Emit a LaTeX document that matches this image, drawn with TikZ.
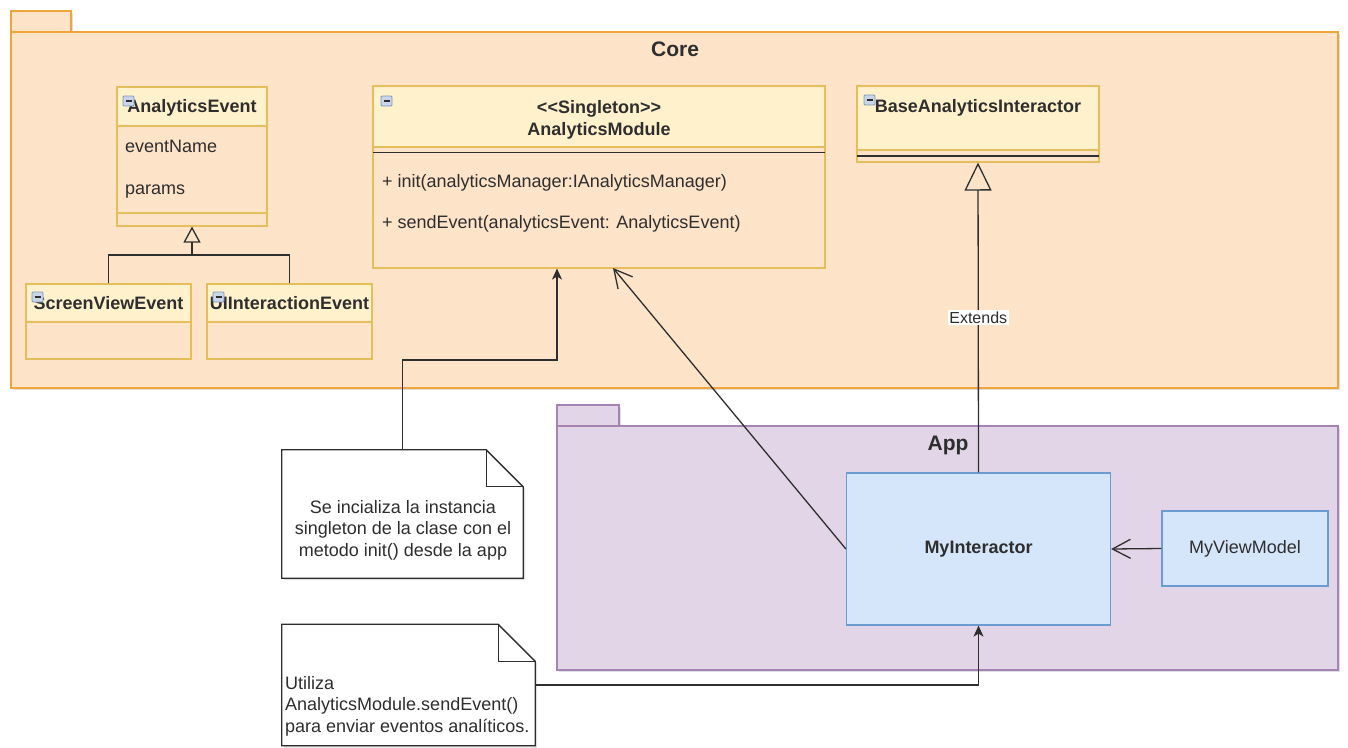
\documentclass[tikz,border=0pt]{standalone}
\usepackage{fontspec}
\setmainfont{Liberation Sans}
\usetikzlibrary{arrows.meta,shadows,calc}
\definecolor{coreFill}{HTML}{FDE3C8}
\definecolor{coreLine}{HTML}{EFA53A}
\definecolor{clsFill}{HTML}{FFF1CB}
\definecolor{clsLine}{HTML}{E3BE5A}
\definecolor{appFill}{HTML}{E1D5E7}
\definecolor{appLine}{HTML}{A583B5}
\definecolor{blueFill}{HTML}{D5E6FB}
\definecolor{blueLine}{HTML}{6C9BCF}
\definecolor{ink}{HTML}{2E2E2E}
\definecolor{icoFill}{HTML}{C9D6EA}
\definecolor{icoLine}{HTML}{7F95B5}
\tikzset{
  shad/.style={drop shadow={opacity=0.25,shadow xshift=2pt,shadow yshift=-2pt}},
  pkgC/.style={draw=coreLine,fill=coreFill,line width=1.4pt},
  pkgA/.style={draw=appLine,fill=appFill,line width=1.4pt},
  clsbox/.style={draw=clsLine,line width=1.1pt,inner sep=0pt,rectangle},
  clshead/.style={draw=clsLine,fill=clsFill,line width=1.1pt},
  sepline/.style={draw=clsLine,line width=1.1pt},
  darkline/.style={draw=ink,line width=1.4pt},
  txt/.style={font=\fontsize{18}{21.6}\selectfont,inner sep=0pt,text height=12.9pt,text depth=0pt,text=ink},
  txtb/.style={txt,font=\fontsize{18}{21.6}\selectfont\bfseries},
  ttl/.style={font=\fontsize{21}{25}\selectfont\bfseries,inner sep=0pt,text height=15pt,text depth=0pt,text=ink},
  lbl/.style={font=\fontsize{16}{19}\selectfont,fill=white,inner sep=1.5pt,text=ink},
  bluebox/.style={draw=blueLine,fill=blueFill,line width=1.2pt,inner sep=0pt,rectangle},
  edge/.style={draw=ink,line width=1.3pt},
  openarrow/.style={-{Straight Barb[length=18pt,width=19pt,line width=1.3pt]}},
  notebox/.style={inner sep=0pt,rectangle},
  noteline/.style={draw=ink,line width=1.3pt,fill=white},
  icobox/.style={draw=icoLine,fill=icoFill,line width=0.8pt,rounded corners=1pt},
  notetext/.style={font=\fontsize{18}{21.6}\selectfont,inner sep=0pt,text=ink},
}
\newcommand{\icon}[2]{%
  \draw[icobox] (#1,#2) rectangle ++(11,10);
  \draw[ink,line width=1.2pt] ($(#1,#2)+(2.5,5)$) -- ++(6,0);
}
\begin{document}
\begin{tikzpicture}[x=1pt,y=-1pt]
\useasboundingbox (0,0) rectangle (1348,747);

% ---------- Core package ----------
\draw[pkgC,shad] (11,11) rectangle (71,32);
\draw[pkgC,shad] (11,32) rectangle (1338,388);
\node[ttl] (coreT) at (675,49) {Core};

% ---------- App package ----------
\draw[pkgA,shad] (557,405) rectangle (619,426);
\draw[pkgA,shad] (557,426) rectangle (1338,670);
\node[ttl] (appT) at (948,443) {App};

% ---------- AnalyticsEvent ----------
\draw[clshead] (117,87) rectangle (267,126);
\node[clsbox,minimum width=150pt,minimum height=139pt] (ae) at (192,156.5) {};
\draw[sepline] (117,213) -- (267,213);
\node[txtb] (aeN) at (192,106) {AnalyticsEvent};
\node[txt,anchor=west] (aeA1) at (125,146) {eventName};
\node[txt,anchor=west] (aeA2) at (125,188) {params};
\icon{123}{96}

% ---------- ScreenViewEvent ----------
\draw[clshead] (26,284) rectangle (191,322);
\node[clsbox,minimum width=165pt,minimum height=75pt] (sve) at (108.5,321.5) {};
\node[txtb] (sveN) at (108.5,303) {ScreenViewEvent};
\icon{32}{292}

% ---------- UIInteractionEvent ----------
\draw[clshead] (207,284) rectangle (372,322);
\node[clsbox,minimum width=165pt,minimum height=75pt] (uie) at (289.5,321.5) {};
\node[txtb] (uieN) at (289.5,303) {UIInteractionEvent};
\icon{213}{292}

% ---------- AnalyticsModule ----------
\draw[clshead] (373,86) rectangle (825,147);
\node[clsbox,minimum width=452pt,minimum height=182pt] (am) at (599,177) {};
\draw[darkline] (373,152.5) -- (825,152.5);
\node[txtb] (amS) at (599,107) {<\kern0pt<Singleton>\kern0pt>};
\node[txtb] (amN) at (599,129) {AnalyticsModule};
\node[txt,anchor=west] (amM1) at (382,181) {+ init(analyticsManager:IAnalyticsManager)};
\node[txt,anchor=west] (amM2) at (382,222) {+ sendEvent(analyticsEvent: AnalyticsEvent)};
\icon{381}{96}

% ---------- BaseAnalyticsInteractor ----------
\draw[clshead] (857,86) rectangle (1099,150);
\node[clsbox,minimum width=242pt,minimum height=76pt] (bai) at (978,124) {};
\draw[darkline] (857,156) -- (1099,156);
\node[txtb] (baiN) at (978,106) {BaseAnalyticsInteractor};
\icon{864}{95}

% ---------- App classes ----------
\node[bluebox,minimum width=264pt,minimum height=152pt,font=\fontsize{18}{21.6}\selectfont\bfseries,text=ink] (mi) at (978.5,549) {MyInteractor};
\node[bluebox,minimum width=166pt,minimum height=75pt,font=\fontsize{18}{21.6}\selectfont,text=ink] (mvm) at (1245,548.5) {MyViewModel};

% ---------- Notes ----------
\node[notebox,minimum width=241pt,minimum height=128pt] (n1) at (402.5,514) {};
\draw[noteline,shad] (n1.north west) -- ($(n1.north east)+(-37,0)$) -- ($(n1.north east)+(0,37)$) -- (n1.south east) -- (n1.south west) -- cycle;
\draw[edge] ($(n1.north east)+(-37,0)$) -- ++(0,37) -- ++(37,0);
\node[notetext,align=center] (n1t) at (403,530) {Se incializa la instancia\\singleton de la clase con el\\metodo init() desde la app};

\node[notebox,minimum width=253pt,minimum height=121pt] (n2) at (408.5,685) {};
\draw[noteline,shad] (n2.north west) -- ($(n2.north east)+(-37,0)$) -- ($(n2.north east)+(0,37)$) -- (n2.south east) -- (n2.south west) -- cycle;
\draw[edge] ($(n2.north east)+(-37,0)$) -- ++(0,37) -- ++(37,0);
\node[notetext,align=left,anchor=west] (n2t) at (285,706) {Utiliza\\AnalyticsModule.sendEvent()\\para enviar eventos analíticos.};

% ---------- Connectors ----------
\coordinate (jae) at (192,255);
\draw[edge,-{Triangle[open,length=16pt,width=17pt]}] (sve.north) |- (jae) -- (ae.south);
\draw[edge] (uie.north) |- (jae);

\draw[edge,-{Triangle[open,length=28pt,width=27pt]}] (mi.north) -- node[lbl] (ext) {Extends} (bai.south);

\coordinate (c1) at (557,360);
\draw[edge,-{Stealth[length=11pt,width=10pt,inset=3pt]}] (n1.north) |- (c1) -- (c1 |- am.south);

\coordinate (amIn) at (613,268);
\draw[edge,openarrow] (mi.west) -- (amIn);

\draw[edge,openarrow] (mvm.west) -- (mi.east);

\draw[edge,-{Stealth[length=11pt,width=10pt,inset=3pt]}] (n2.east) -| (mi.south);
\end{tikzpicture}
\end{document}
